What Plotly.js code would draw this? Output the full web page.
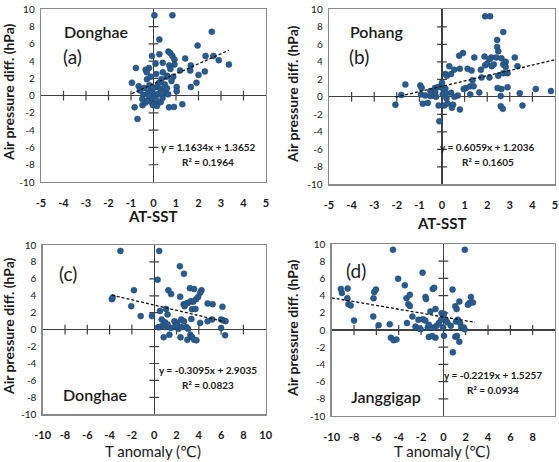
<!DOCTYPE html>
<html>
<head>
<meta charset="utf-8">
<script src="https://cdn.plot.ly/plotly-3.0.1.min.js"></script>
<style>
  html, body { margin: 0; padding: 0; background: #ffffff; }
  #chart { width: 559px; height: 462px; }
</style>
</head>
<body>
<div id="chart"></div>
<script>
// ---- (a) Donghae: AT-SST vs air pressure difference ----
const aX = [0.04, 0.84, 2.59, 0.26, 1.96, 0.66, 0.75, -0.07, 0.26, 0.84, 0.93, 1.41, 2.31, 2.66, 2.9, 3.35,
  -0.78, -0.35, -0.2, -0.3, 0.09, 0.41, 0.7, 0.75, 0.93, 1.18, 1.66, 1.63, 2.0, 2.28, 0.12, 0.41, 0.88, 0.6, 0.35,
  -0.96, -0.66, -0.29, -0.18, -0.41, -0.15, -0.06, -0.25, 0.15, 0.3, 0.45, 0.55, 0.65, 1.03, 1.03, 1.66, 1.91,
  -0.49, -0.35, -0.3, -0.07, 0.07, 0.32, -0.84, 0.69, 0.91, 1.28, -0.71, -0.02, 0.15, 0.05, -0.1, 0.2, 0.0,
  -0.45, 0.5, 0.25, -0.12, -0.5, 0.1, 0.4, -0.6, -0.2, 0.35, 0.6, 0.8, 0.59];
const aY = [9.3, 9.3, 7.4, 6.5, 5.8, 5.1, 4.9, 4.6, 4.8, 4.6, 4.2, 4.3, 4.6, 4.6, 4.1, 3.6,
  3.2, 3.0, 3.2, 2.7, 3.7, 3.8, 3.5, 3.1, 3.6, 2.9, 3.5, 2.9, 2.4, 2.8, 2.5, 2.7, 2.2, 2.3, 1.9,
  1.5, 1.1, 1.9, 1.2, 0.9, 0.6, 0.4, 0.3, 1.0, 0.8, 0.55, 0.25, 0.15, 1.0, 0.5, 1.0, 1.5,
  -1.1, -0.8, -0.6, -0.8, -0.85, -0.75, -1.35, -1.35, -1.3, -1.0, -2.7, -1.1, -1.2, 0.1, -0.2, 0.2, 0.9,
  0.1, 1.3, 1.5, 2.2, -0.4, -0.4, -0.3, 0.6, 0.0, 0.3, 0.85, 1.7, 2.2];

// ---- (b) Pohang: AT-SST vs air pressure difference ----
const bX = [1.91, 2.13, 2.71, 2.44, 2.44, 2.49, 0.93, 0.76, 1.43, 1.88, 2.18, 2.1, 2.4, 2.63, 2.82, 3.22,
  0.32, 0.54, 0.79, 1.13, 1.31, 1.72, 1.91, 2.0, 2.2, 2.29, 2.71, 2.82, 3.34, 0.15, 0.22, 0.4, 1.35, 1.75, 2.1,
  2.49, 2.71, 2.9, -1.62, -0.96, -0.9, -0.51, -0.31, -0.19, -0.07, -0.01, 0.06, 0.15, 0.96, 1.06, 1.25, 1.4,
  2.46, 2.63, 2.9, 1.65, 3.44, 4.15, 4.82, 2.6, -0.93, -0.74, -0.51, -0.37, -0.26, 0.03, 0.18, 0.4,
  -2.06, -0.85, -0.63, -0.15, 0.1, 0.25, 0.49, 0.44, 0.79, 2.6, 2.69, 3.56, -0.12, 0.7, 1.25, -1.8, 0.0, -0.3, 0.2, 0.55];
const bY = [9.2, 9.2, 7.4, 6.5, 5.7, 5.2, 5.0, 4.7, 4.5, 4.6, 4.5, 4.3, 4.5, 4.4, 4.0, 4.5,
  3.5, 3.1, 3.2, 3.2, 3.0, 3.1, 3.6, 3.8, 3.5, 3.7, 3.7, 3.4, 3.5, 2.6, 2.4, 2.6, 1.9, 2.2, 2.2,
  2.4, 2.7, 2.7, 1.4, 1.3, 1.0, 0.65, 1.0, 1.1, 1.2, 1.15, 0.84, 0.95, 0.9, 1.0, 1.2, 1.2,
  1.0, 0.9, 1.1, 0.5, 0.4, 0.9, 0.65, 0.1, 0.27, 0.15, 0.08, 0.15, 0.0, 0.27, 0.38, 0.45,
  -0.9, -0.8, -0.7, -1.0, -1.0, -0.76, -0.9, -1.26, -1.45, -1.07, -1.37, -1.0, -2.8, 0.15, 0.27, 0.2, 1.6, 0.5, -0.2, 0.0];

// ---- (c) Donghae: T anomaly vs air pressure difference ----
const cX = [-3.03, 0.45, 2.3, 2.67, 0.3, -1.82, 1.27, 1.52, 3.2, 3.58, 4.24, 4.12, 2.33, -3.8, -3.72,
  3.03, 3.27, 3.5, 3.76, 3.94, 2.64, 2.88, 2.73, 4.79, 5.24, 6.12, -2.06, 3.39, 3.7, 0.52, 1.06,
  -1.21, -0.21, 1.2, 0.67, 0.97, 1.82, 2.06, 2.42, 2.67, 3.33, 4.12, 4.79, 5.2, 6.0, 6.2, 6.4,
  0.36, 0.5, 0.75, 0.97, 1.5, 1.88, 2.18, 2.42, 2.88, 3.03, 1.2, 2.0, 6.0,
  0.85, 1.36, 2.36, 2.97, 3.24, 3.39, 3.58, 3.79, 6.36];
const cY = [9.3, 9.3, 7.5, 6.6, 5.9, 4.66, 4.66, 4.2, 4.9, 4.8, 4.66, 4.35, 3.9, 3.6, 3.8,
  3.16, 3.36, 3.3, 3.6, 3.87, 3.0, 3.1, 2.77, 3.1, 3.0, 2.7, 2.77, 2.4, 2.45, 2.2, 2.45,
  1.6, 1.6, 1.8, 1.2, 0.87, 1.0, 0.8, 1.2, 1.0, 1.26, 0.8, 1.0, 1.2, 1.2, 1.1, 1.0,
  0.28, 0.3, 0.5, 0.3, 0.2, 0.4, 0.1, 0.3, 0.3, 0.1, 0.6, 0.5, 0.2,
  -0.9, -0.6, -0.9, -1.2, -0.6, -0.87, -1.2, -1.26, -0.67];

// ---- (d) Janggigap: T anomaly vs air pressure difference ----
const dX = [-4.51, 1.92, -1.86, -4.05, -3.45, -9.18, -8.57, -9.09, -6.19, -6.04, -0.95, -0.82, 0.82,
  -8.6, -8.5, -8.3, -6.25, -3.3, -3.0, -1.6, -1.55, -3.14, -3.0, 2.47, 2.35, 2.65, 2.2, 1.43, 1.07, 1.19,
  -0.7, -1.16, -0.15, 0.06, -8.0, -6.28, -5.8, -4.8, -2.77, -2.23, -1.83, -1.62, -3.26,
  -2.5, -2.2, -2.04, -1.4, -1.3, -0.85, -0.6, -0.4, -0.2, -0.03, 0.2, 0.35, 0.67, 1.13, 1.3, 1.5, 1.6, 1.8, 1.9,
  -4.7, -4.45, -4.2, -1.3, -0.7, -1.0, 0.06, 1.07, 1.22, 1.43, 0.85];
const dY = [9.33, 9.33, 6.67, 5.96, 5.2, 4.78, 4.82, 4.31, 4.43, 4.7, 4.78, 4.9, 4.7,
  3.7, 3.0, 2.86, 3.7, 3.7, 4.1, 3.84, 3.6, 3.0, 2.8, 3.84, 3.14, 3.2, 2.94, 3.3, 2.75, 2.43,
  2.43, 2.16, 1.96, 1.88, 1.1, 1.57, 0.55, 0.67, 1.57, 1.18, 1.25, 1.1, 0.8,
  0.4, 0.2, 0.1, 0.3, 0.6, 0.3, 0.5, 0.8, 1.2, 0.3, 1.2, 0.9, 0.5, 1.0, 1.2, 0.8, 0.3, 0.3, 0.1,
  -0.9, -1.18, -1.1, -0.8, -0.9, -0.7, -0.67, -0.78, -0.7, -1.37, -2.6];

// Linear trend fits (slope, intercept) and the x span each dashed line covers
const fitA = [1.1634, 1.3652], fitB = [0.6059, 1.2036], fitC = [-0.3095, 2.9035], fitD = [-0.2219, 1.5257];
const spanA = [-0.96, 3.35], spanB = [-2.06, 5], spanC = [-3.8, 6.33], spanD = [-10, 2.84];

// Equation labels
const eqA = ['y = 1.1634x + 1.3652', 'R² = 0.1964'];
const eqB = ['y = 0.6059x + 1.2036', 'R² = 0.1605'];
const eqC = ['y = -0.3095x + 2.9035', 'R² = 0.0823'];
const eqD = ['y = -0.2219x + 1.5257', 'R² = 0.0934'];

// Axis tick values
const xTicksAT = [-5, -4, -3, -2, -1, 0, 1, 2, 3, 4, 5];
const xTicksT = [-10, -8, -6, -4, -2, 0, 2, 4, 6, 8, 10];
const yTicks = [-10, -8, -6, -4, -2, 0, 2, 4, 6, 8, 10];

// Text
const siteLabels = ['Donghae', 'Pohang', 'Donghae', 'Janggigap'];
const panelTags = ['(a)', '(b)', '(c)', '(d)'];
const xTitles = ['AT-SST', 'AT-SST', 'T anomaly (℃)', 'T anomaly (℃)'];
const yTitle = 'Air pressure diff. (hPa)';

// ------------------------------------------------------------------
const W = 559, H = 462;
const px = v => v / W;
const py = v => 1 - v / H;
const hyphenLabels = vals => vals.map(v => String(v));   // plain hyphen-minus labels

const MARK = '#2a5b8c';
const AXIS = '#404040';
const FONT = 'Lato, "Open Sans", "DejaVu Sans", sans-serif';

const panels = [
  {x: aX, y: aY, fit: fitA, span: spanA, eq: eqA, xt: xTicksAT, box: [41, 266, 9.3, 182]},
  {x: bX, y: bY, fit: fitB, span: spanB, eq: eqB, xt: xTicksAT, box: [329, 555, 9.3, 184.3]},
  {x: cX, y: cY, fit: fitC, span: spanC, eq: eqC, xt: xTicksT, box: [42.7, 265.7, 245, 414.3]},
  {x: dX, y: dY, fit: fitD, span: spanD, eq: eqD, xt: xTicksT, box: [331.7, 555, 244, 416]}
];

const traces = [];
const layout = {
  width: W, height: H, autosize: false,
  margin: {l: 0, r: 0, t: 0, b: 0},
  paper_bgcolor: '#ffffff', plot_bgcolor: '#ffffff',
  showlegend: false,
  font: {family: FONT, color: '#1a1a1a'},
  annotations: []
};

panels.forEach((p, i) => {
  const n = i + 1;
  const xa = 'x' + (n === 1 ? '' : n), ya = 'y' + (n === 1 ? '' : n);
  const xk = 'xaxis' + (n === 1 ? '' : n), yk = 'yaxis' + (n === 1 ? '' : n);
  const [l, r, t, b] = p.box;
  const xr = [p.xt[0], p.xt[p.xt.length - 1]];

  layout[xk] = {
    domain: [px(l), px(r)], anchor: ya, range: xr,
    tickvals: p.xt, ticktext: hyphenLabels(p.xt), ticks: '', showgrid: false,
    showline: true, mirror: true, linecolor: '#8a8a8a', linewidth: 1.3,
    zeroline: true, zerolinecolor: AXIS, zerolinewidth: 1.2,
    tickfont: {size: 11, color: '#1a1a1a', family: FONT, weight: 'bold'},
    ticklabelstandoff: 10, fixedrange: true
  };
  layout[yk] = {
    domain: [py(b), py(t)], anchor: xa, range: [-10, 10],
    tickvals: yTicks, ticktext: hyphenLabels(yTicks), ticks: '', showgrid: false,
    showline: true, mirror: true, linecolor: '#8a8a8a', linewidth: 1.3,
    zeroline: true, zerolinecolor: AXIS, zerolinewidth: 1.2,
    tickfont: {size: 10, color: '#1a1a1a', family: FONT},
    ticklabelstandoff: 3, fixedrange: true
  };

  // cross ticks on the zero axes
  const xtInner = p.xt.filter(v => v !== 0 && v !== xr[0] && v !== xr[1]);
  const ytInner = yTicks.filter(v => v !== 0 && v !== -10 && v !== 10);
  traces.push({
    type: 'scatter', mode: 'markers', xaxis: xa, yaxis: ya, hoverinfo: 'skip',
    x: xtInner, y: xtInner.map(() => 0),
    marker: {symbol: 'line-ns-open', size: 7, color: AXIS, line: {color: AXIS, width: 1.2}}
  });
  traces.push({
    type: 'scatter', mode: 'markers', xaxis: xa, yaxis: ya, hoverinfo: 'skip',
    x: ytInner.map(() => 0), y: ytInner,
    marker: {symbol: 'line-ew-open', size: 7, color: AXIS, line: {color: AXIS, width: 1.2}}
  });

  // observations
  traces.push({
    type: 'scatter', mode: 'markers', xaxis: xa, yaxis: ya,
    x: p.x, y: p.y,
    marker: {color: MARK, size: 6, line: {color: '#1f4670', width: 0.5}}
  });

  // linear trend
  traces.push({
    type: 'scatter', mode: 'lines', xaxis: xa, yaxis: ya, hoverinfo: 'skip',
    x: p.span, y: p.span.map(v => p.fit[0] * v + p.fit[1]),
    line: {color: '#111111', width: 1.3, dash: '3px,2px'}
  });
});

const ann = (x, y, text, size, extra) => Object.assign({
  xref: 'paper', yref: 'paper', x: px(x), y: py(y), text: text, showarrow: false,
  xanchor: 'center', yanchor: 'middle', font: {family: FONT, size: size, color: '#1a1a1a'}
}, extra || {});

const siteFont = {family: FONT, size: 16, color: '#1a1a1a', weight: 600};

// site names and panel tags
layout.annotations.push(ann(62, 32, siteLabels[0], 16, {xanchor: 'left', font: siteFont}));
layout.annotations.push(ann(61, 57, panelTags[0], 19, {xanchor: 'left'}));
layout.annotations.push(ann(348, 32, siteLabels[1], 16, {xanchor: 'left', font: siteFont}));
layout.annotations.push(ann(347, 57, panelTags[1], 19, {xanchor: 'left'}));
layout.annotations.push(ann(57, 273, panelTags[2], 19, {xanchor: 'left'}));
layout.annotations.push(ann(61, 394, siteLabels[2], 16, {xanchor: 'left', font: siteFont}));
layout.annotations.push(ann(344, 270, panelTags[3], 19, {xanchor: 'left'}));
layout.annotations.push(ann(349, 396, siteLabels[3], 16, {xanchor: 'left', font: siteFont}));

// regression equations
const eqFont = {family: FONT, size: 10, color: '#1a1a1a', weight: 'bold'};
[[eqA, 208, 147], [eqB, 488, 147], [eqC, 208, 370], [eqD, 493, 375]].forEach(([e, x, y]) => {
  layout.annotations.push(ann(x, y, e[0], 10, {font: eqFont}));
  layout.annotations.push(ann(x, y + 15, e[1], 10, {font: eqFont}));
});

// axis titles
const xtFontBold = {family: FONT, size: 15, color: '#1a1a1a', weight: 'bold'};
const xtFontReg = {family: FONT, size: 15, color: '#1a1a1a'};
layout.annotations.push(ann(153, 216, xTitles[0], 15, {font: xtFontBold}));
layout.annotations.push(ann(442, 223, xTitles[1], 15, {font: xtFontBold}));
layout.annotations.push(ann(153, 451, xTitles[2], 15, {font: xtFontReg}));
layout.annotations.push(ann(442, 451, xTitles[3], 15, {font: xtFontReg}));

const ytFont = {family: FONT, size: 14, color: '#1a1a1a', weight: 'bold'};
[[8, 92], [292, 94], [8, 326], [292, 328]].forEach(([x, y]) => {
  layout.annotations.push(ann(x, y, yTitle, 14, {textangle: -90, font: ytFont}));
});

Plotly.newPlot('chart', traces, layout, {staticPlot: true, displayModeBar: false});
</script>
</body>
</html>
